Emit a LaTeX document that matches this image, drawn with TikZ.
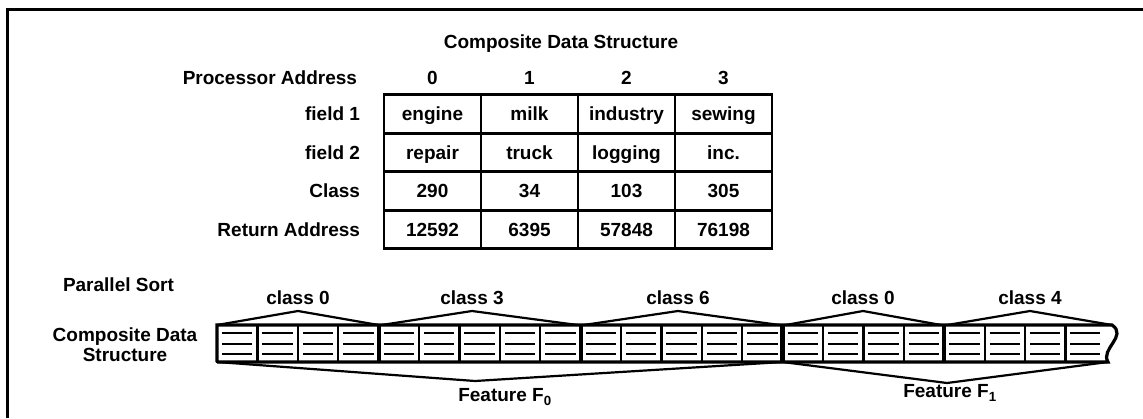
\documentclass[tikz,border=0pt]{standalone}
\usepackage{fontspec}
\setmainfont{Liberation Sans}
\usepackage{tikz}
\usetikzlibrary{positioning}

\begin{document}
\begin{tikzpicture}[
        % Définition des styles
        x = 1pt, y = -1pt, % une unité = un pixel de la référence
        every node/.style = {font=\bfseries\fontsize{19}{20}\selectfont, inner sep=0pt, outer sep=0pt},
        % Case du tableau
        cell/.style = {
            rectangle,
            draw,
            line width=2.6pt,
            minimum width=97pt,
            minimum height=38.5pt,
            text height=13.5pt,
            text depth=0pt
        },
        % Case de la structure triée
        slot/.style = {
            rectangle,
            draw,
            line width=2.2pt,
            minimum width=40.4pt,
            minimum height=37pt
        },
        % Lignes de texte dans une case
        rule/.style = {line width=2pt},
        % Chevrons des classes et des features
        tent/.style = {line width=2.2pt, line join=round},
        % Séparation de groupes
        sep/.style = {line width=4pt}
    ]

        \useasboundingbox (0,0) rectangle (1143,418);

        % 0. Cadre
        \draw [line width=3pt] (7,418) -- (7,9) -- (1143,9);

        % 1. Tableau (Composite Data Structure)
        \node (title) at (561,44) {Composite Data Structure};

        \node (eng) [cell] at (432.5,114) {engine};
        \node (milk) [cell, right=0pt of eng] {milk};
        \node (ind) [cell, right=0pt of milk] {industry};
        \node (sew) [cell, right=0pt of ind] {sewing};

        \node (rep) [cell, below=0pt of eng] {repair};
        \node (truck) [cell, right=0pt of rep] {truck};
        \node (log) [cell, right=0pt of truck] {logging};
        \node (inc) [cell, right=0pt of log] {inc.};

        \node (k0) [cell, below=0pt of rep] {290};
        \node (k1) [cell, right=0pt of k0] {34};
        \node (k2) [cell, right=0pt of k1] {103};
        \node (k3) [cell, right=0pt of k2] {305};

        \node (r0) [cell, below=0pt of k0] {12592};
        \node (r1) [cell, right=0pt of r0] {6395};
        \node (r2) [cell, right=0pt of r1] {57848};
        \node (r3) [cell, right=0pt of r2] {76198};

        % Adresses des processeurs
        \node (pa0) [above=10pt of eng] {0};
        \node (pa1) [above=10pt of milk] {1};
        \node (pa2) [above=10pt of ind] {2};
        \node (pa3) [above=10pt of sew] {3};
        \node (proc) [anchor=east] at (357,78) {Processor Address};

        % Noms des lignes
        \node (fld1) [left=24pt of eng] {field 1};
        \node (fld2) [left=24pt of rep] {field 2};
        \node (cls) [left=24pt of k0] {Class};
        \node (ret) [left=24pt of r0] {Return Address};

        % 2. Structure après le tri parallèle
        \node (psort) [anchor=west] at (63,285) {Parallel Sort};
        \node (cds) [align=center] at (125,345) {Composite Data\\Structure};

        \node (c0) [slot, anchor=north west] at (217,325) {};
        \foreach \i [count=\j from 0] in {1,...,20}
            \node (c\i) [slot, right=0pt of c\j] {};
        \coordinate (endtop) at (1112,325);
        \coordinate (endbot) at (1108,362);

        % lignes de texte dans les cases
        \foreach \i in {0,...,20}
            \foreach \h in {7.5,18.5,29}
                \draw [rule] ([xshift=5pt, yshift=-\h pt]c\i.north west) -- ([xshift=-5pt, yshift=-\h pt]c\i.north east);
        \foreach \h in {7.5,18.5,29}
            \draw [rule] ([xshift=5pt, yshift=-\h pt]c20.north east) -- ++(30,0);

        % bord extérieur et fin ondulée
        \draw [line width=3.2pt] (c0.south west) -- (c0.north west) -- (c20.north east) -- (endtop)
            .. controls (1128,336) and (1100,349) .. (endbot) -- (c20.south east) -- (c0.south west);

        % séparations de groupes
        \draw [sep] (c4.north west) -- (c4.south west);
        \draw [sep] (c9.north west) -- (c9.south west);
        \draw [sep, line width=5.5pt] (c14.north west) -- (c14.south west);
        \draw [sep] (c18.north west) -- (c18.south west);

        % 3. Classes (au-dessus)
        \coordinate (ta) at (298,311);
        \coordinate (tb) at (472,311);
        \coordinate (tc) at (678,311);
        \coordinate (td) at (863,311);
        \coordinate (te) at (1030,311);
        \draw [tent] (c0.north west) -- (ta) -- (c3.north east);
        \draw [tent] ([xshift=3pt]c4.north west) -- (tb) -- ([xshift=-3pt]c8.north east);
        \draw [tent] ([xshift=3pt]c9.north west) -- (tc) -- ([xshift=-3pt]c13.north east);
        \draw [tent] ([xshift=3pt]c14.north west) -- (td) -- ([xshift=-3pt]c17.north east);
        \draw [tent] ([xshift=3pt]c18.north west) -- (te) -- (endtop);
        \node (la) [above=6pt of ta] {class 0};
        \node (lb) [above=6pt of tb] {class 3};
        \node (lc) [above=6pt of tc] {class 6};
        \node (ld) [above=6pt of td] {class 0};
        \node (le) [above=6pt of te] {class 4};

        % 4. Features (en dessous)
        \coordinate (fa) at (475,381);
        \coordinate (fb) at (947,383);
        \draw [tent] (c0.south west) -- (fa) -- (c13.south east);
        \draw [tent] (c14.south west) -- (fb) -- (endbot);
        \node (feat0) at (505,397) {Feature F\textsubscript{0}};
        \node (feat1) at (950,393) {Feature F\textsubscript{1}};

    \end{tikzpicture}
\end{document}
